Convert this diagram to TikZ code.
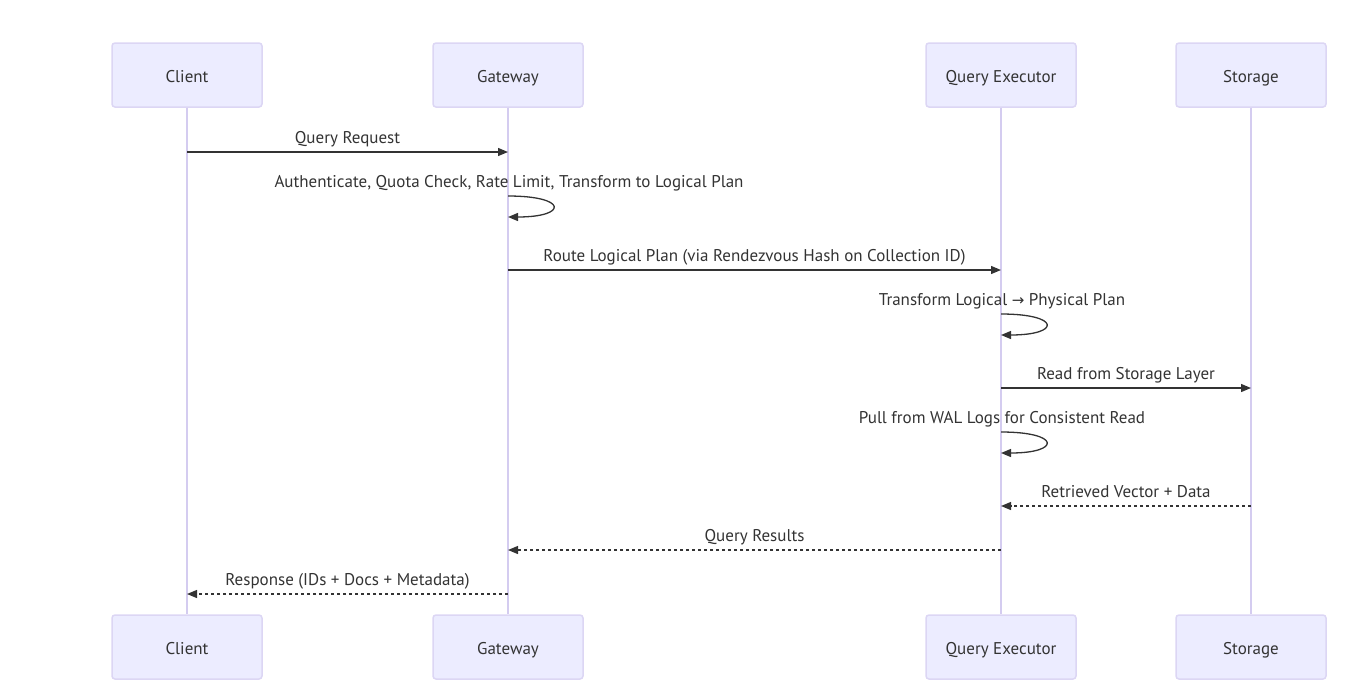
\documentclass[tikz,border=0pt]{standalone}
\usepackage{fontspec}
\setmainfont{PT Sans}
\usepackage{tikz}
\usetikzlibrary{arrows.meta, positioning, calc}
\usepackage{xcolor}
\definecolor{actorfill}{HTML}{ECECFF}
\definecolor{actorline}{HTML}{DCD6F4}
\definecolor{lifeline}{HTML}{D4CCF0}
\definecolor{msgline}{HTML}{333333}

\begin{document}
\begin{tikzpicture}[x=1pt, y=-1pt,
    actor/.style={draw=actorline, line width=1.5pt, fill=actorfill, rounded corners=3pt,
      minimum width=150pt, minimum height=64pt, font=\fontsize{17}{20}\selectfont, text=msgline,
      text height=18pt, text depth=3pt},
    msg/.style={draw=msgline, line width=1.3pt, -{Triangle[length=10pt,width=8pt]}},
    reply/.style={msg, dash pattern=on 3pt off 3pt},
    lbl/.style={font=\fontsize{17}{20}\selectfont, text=msgline, text height=12pt, text depth=3pt}]
            \useasboundingbox (0,0) rectangle (1346,697);
            % Participants
            \foreach \name/\txt/\x in {client/Client/187, gateway/Gateway/508, executor/Query Executor/1001, storage/Storage/1251} {
                \node[actor] (\name) at (\x,75) {\txt};
                \node[actor] (\name B) at (\x,647) {\txt};
                \draw[lifeline, line width=1.5pt] (\name.south) -- (\name B.north);
            }
            % Messages
            \draw[msg] (client |- 0,152) -- (gateway |- 0,152);
            \node[lbl] (m1) at ($(client)!0.5!(gateway) + (0,-75+139)$) {Query Request};
            \node[lbl] (m2) at (509,183) {Authenticate, Quota Check, Rate Limit, Transform to Logical Plan};
            \draw[msg] (gateway |- 0,196) .. controls +(60,0) and +(60,0) .. (gateway |- 0,217);
            \draw[msg] (gateway |- 0,270) -- (executor |- 0,270);
            \node[lbl] (m3) at ($(gateway)!0.5!(executor) + (0,-75+257)$) {Route Logical Plan (via Rendezvous Hash on Collection ID)};
            \node[lbl] (m4) at (1002,301) {Transform Logical \fontspec{DejaVu Sans}\fontsize{15}{18}\selectfont →\fontspec{PT Sans}\fontsize{17}{20}\selectfont{} Physical Plan};
            \draw[msg] (executor |- 0,314) .. controls +(60,0) and +(60,0) .. (executor |- 0,335);
            \draw[msg] (executor |- 0,388) -- (storage |- 0,388);
            \node[lbl] (m5) at ($(executor)!0.5!(storage) + (0,-75+375)$) {Read from Storage Layer};
            \node[lbl] (m6) at (1002,419) {Pull from WAL Logs for Consistent Read};
            \draw[msg] (executor |- 0,432) .. controls +(60,0) and +(60,0) .. (executor |- 0,453);
            % Replies
            \draw[reply] (storage |- 0,506) -- (executor |- 0,506);
            \node[lbl] (m7) at ($(executor)!0.5!(storage) + (0,-75+493)$) {Retrieved Vector + Data};
            \draw[reply] (executor |- 0,550) -- (gateway |- 0,550);
            \node[lbl] (m8) at ($(gateway)!0.5!(executor) + (0,-75+537)$) {Query Results};
            \draw[reply] (gateway |- 0,594) -- (client |- 0,594);
            \node[lbl] (m9) at ($(client)!0.5!(gateway) + (0,-75+581)$) {Response (IDs + Docs + Metadata)};
        \end{tikzpicture}
\end{document}
